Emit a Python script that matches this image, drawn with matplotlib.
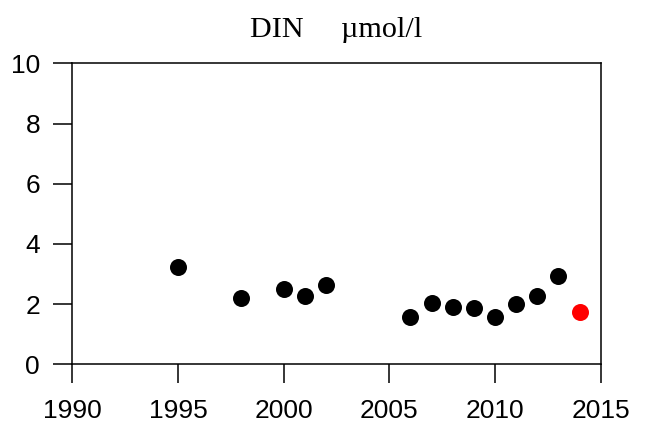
import matplotlib
matplotlib.use("Agg")
import matplotlib.pyplot as plt

# DIN concentrations by year
years = [1995, 1998, 2000, 2001, 2002, 2006, 2007, 2008, 2009, 2010, 2011, 2012, 2013]
din = [3.22, 2.20, 2.51, 2.26, 2.64, 1.58, 2.05, 1.91, 1.88, 1.58, 1.99, 2.26, 2.94]
latest_year = [2014]
latest_din = [1.73]

x_ticks = [1990, 1995, 2000, 2005, 2010, 2015]
y_ticks = [0, 2, 4, 6, 8, 10]

fig = plt.figure(figsize=(6.46, 4.28), dpi=100)
ax = fig.add_axes([0.1119, 0.1488, 0.8180, 0.7033])

ax.scatter(years, din, s=150, color="black", zorder=3, linewidths=0)
ax.scatter(latest_year, latest_din, s=150, color="red", zorder=3, linewidths=0)

ax.set_xlim(1990, 2015)
ax.set_ylim(0, 10)
ax.set_xticks(x_ticks)
ax.set_yticks(y_ticks)

tick_font = {"family": "Liberation Sans", "size": 19}
ax.set_xticklabels([str(t) for t in x_ticks], fontdict=tick_font)
ax.set_yticklabels([str(t) for t in y_ticks], fontdict=tick_font)
ax.tick_params(axis="x", direction="out", length=13.7, width=1.1, pad=11.5)
ax.tick_params(axis="y", direction="out", length=13.7, width=1.1, pad=9.5)

for spine in ax.spines.values():
    spine.set_linewidth(1.1)

ax.set_title("DIN     \u00b5mol/l", family="Liberation Serif", size=21.7, pad=19)

fig.savefig("out.png", dpi=100)
